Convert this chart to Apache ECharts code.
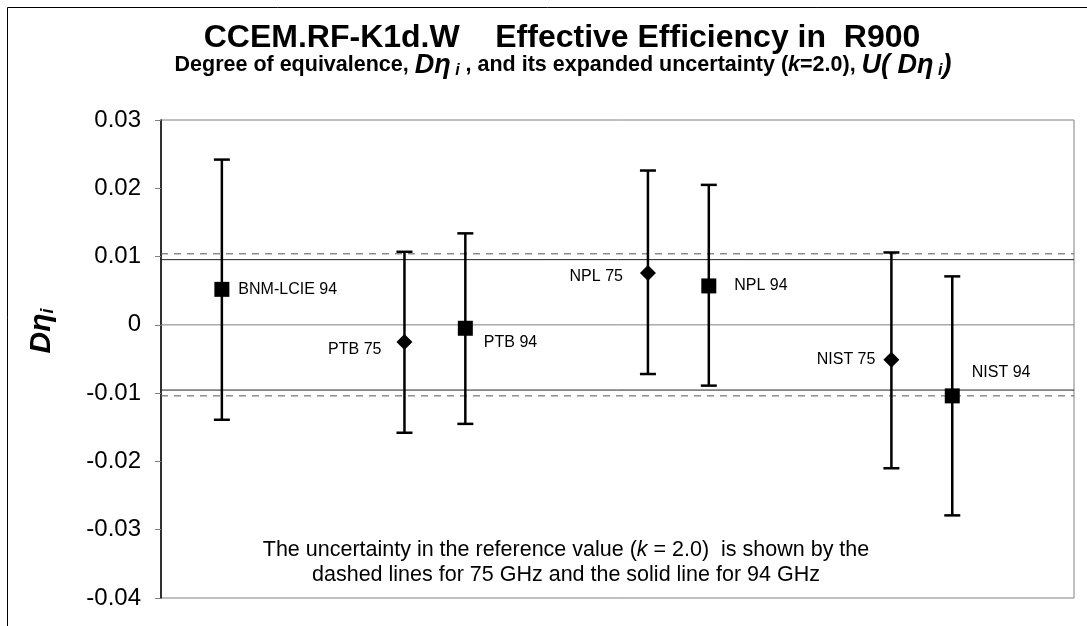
<!DOCTYPE html>
<html>
<head>
<meta charset="utf-8">
<script src="https://cdn.jsdelivr.net/npm/echarts@6/dist/echarts.min.js"></script>
<style>html,body{margin:0;padding:0;background:#fff}#c{width:1087px;height:626px}</style>
</head>
<body>
<div id="c"></div>
<script>
// ---- data ----
var labels  = ['BNM-LCIE 94', 'PTB 75', 'PTB 94', 'NPL 75', 'NPL 94', 'NIST 75', 'NIST 94'];
var xPos    = [1, 4, 5, 8, 9, 12, 13];
var freqs   = [94, 75, 94, 75, 94, 75, 94];
var values  = [0.0052, -0.0025, -0.0005, 0.0076, 0.0057, -0.0051, -0.0104];
var lows    = [-0.0139, -0.0158, -0.0145, -0.0072, -0.0089, -0.0210, -0.0279];
var highs   = [0.0242, 0.0107, 0.0134, 0.0226, 0.0205, 0.0106, 0.0071];
var ref75   = [0.0104, -0.0104];   // dashed lines (75 GHz)
var ref94   = [0.00955, -0.00955]; // solid lines (94 GHz)
var refZero = [0];
var yTicks  = [-0.04, -0.03, -0.02, -0.01, 0, 0.01, 0.02, 0.03];
var xRange  = [0, 15];

// ---- label placement (style only) ----
var labelPlace = {
  'BNM-LCIE 94': {position: 'right', distance: 9,  offset: [0, 0]},
  'PTB 75':      {position: 'left',  distance: 15, offset: [0, 8]},
  'PTB 94':      {position: 'right', distance: 11, offset: [0, 14]},
  'NPL 75':      {position: 'left',  distance: 17, offset: [0, 4]},
  'NPL 94':      {position: 'right', distance: 18, offset: [0, 0]},
  'NIST 75':     {position: 'left',  distance: 8,  offset: [0, 0]},
  'NIST 94':     {position: 'right', distance: 12, offset: [0, -23]}
};

var FONT = 'Arial, "Liberation Sans", sans-serif';

var markerData = labels.map(function (name, i) {
  var is94 = freqs[i] === 94;
  var lp = labelPlace[name];
  return {
    name: name,
    value: [xPos[i], values[i]],
    symbol: is94 ? 'rect' : 'diamond',
    symbolSize: is94 ? 15 : [16, 16],
    label: {
      show: true, formatter: name,
      position: lp.position, distance: lp.distance, offset: lp.offset,
      color: '#000', fontSize: 16, fontFamily: FONT
    }
  };
});

var errData = labels.map(function (name, i) { return [xPos[i], lows[i], highs[i]]; });

function refSeries(vals, type, color) {
  return vals.map(function (v) {
    return {
      type: 'line', silent: true, symbol: 'none', animation: false,
      data: [[xRange[0], v], [xRange[1], v]],
      lineStyle: {type: type, color: color, width: 1},
      z: 1
    };
  });
}

var chart = echarts.init(document.getElementById('c'), null, {renderer: 'canvas'});
chart.setOption({
  backgroundColor: '#fff',
  animation: false,
  title: [{
    text: 'CCEM.RF-K1d.W    Effective Efficiency in  R900',
    left: 557, top: 17, textAlign: 'center',
    textStyle: {fontSize: 32, fontWeight: 'bold', fontFamily: FONT, color: '#000'}
  }, {
    text: '{b|Degree of equivalence, }{i|Dη}{s| i}{b| , and its expanded uncertainty (}{k|k}{b|=2.0), }{i|U( Dη}{s| i}{i|)}',
    left: 558, top: 47, textAlign: 'center',
    textStyle: {
      rich: {
        b: {fontSize: 21.5, fontWeight: 'bold', fontFamily: FONT, color: '#000'},
        k: {fontSize: 21.5, fontWeight: 'bold', fontStyle: 'italic', fontFamily: FONT, color: '#000'},
        i: {fontSize: 27, fontWeight: 'bold', fontStyle: 'italic', fontFamily: FONT, color: '#000'},
        s: {fontSize: 16, fontStyle: 'italic', fontFamily: FONT, color: '#000', verticalAlign: 'bottom', padding: [8, 0, 0, 0]}
      }
    }
  }],
  grid: {left: 161, top: 120, right: 13, bottom: 28, show: true, borderColor: '#808080', borderWidth: 1},
  xAxis: {
    type: 'value', min: xRange[0], max: xRange[1],
    axisLine: {show: false}, axisTick: {show: false}, axisLabel: {show: false}, splitLine: {show: false}
  },
  yAxis: {
    type: 'value', min: yTicks[0], max: yTicks[yTicks.length - 1], interval: 0.01,
    axisLine: {show: true, lineStyle: {color: '#000', width: 1.5}},
    axisTick: {show: true, inside: false, length: 6, lineStyle: {color: '#808080'}},
    axisLabel: {
      margin: 20, fontSize: 24, fontFamily: FONT, color: '#000',
      formatter: function (v) { return String(Math.round(v * 1000) / 1000); }
    },
    splitLine: {show: false}
  },
  graphic: [{
    type: 'rect', silent: true,
    shape: {x: 7.5, y: 7.5, width: 1200, height: 800},
    style: {fill: 'none', stroke: '#000', lineWidth: 1}
  }, {
    type: 'text', silent: true, x: 42, y: 331, rotation: Math.PI / 2,
    style: {
      text: '{d|Dη}{s|i}',
      align: 'center', verticalAlign: 'middle',
      rich: {
        d: {fontSize: 30, fontWeight: 'bold', fontStyle: 'italic', fontFamily: FONT, fill: '#000'},
        s: {fontSize: 18, fontWeight: 'bold', fontStyle: 'italic', fontFamily: FONT, fill: '#000', verticalAlign: 'bottom', padding: [10, 0, 0, 0]}
      }
    }
  }, {
    type: 'text', silent: true, x: 566, y: 563,
    style: {
      text: '{n|The uncertainty in the reference value (}{k|k}{n| = 2.0)  is shown by the}\n{n|dashed lines for 75 GHz and the solid line for 94 GHz}',
      align: 'center', verticalAlign: 'middle',
      rich: {
        n: {fontSize: 21.5, fontFamily: FONT, fill: '#000', lineHeight: 25},
        k: {fontSize: 21.5, fontFamily: FONT, fontStyle: 'italic', fill: '#000', lineHeight: 25}
      }
    }
  }],
  series: refSeries(refZero, 'solid', '#808080')
    .concat(refSeries(ref94, 'solid', '#222'))
    .concat(refSeries(ref75, [7, 6], '#555'))
    .concat([{
      type: 'custom', silent: true,
      data: errData,
      encode: {x: 0, y: [1, 2]},
      renderItem: function (params, api) {
        var x = api.value(0);
        var top = api.coord([x, api.value(2)]);
        var bot = api.coord([x, api.value(1)]);
        var hw = 8;
        var st = {stroke: '#000', lineWidth: 2.5};
        return {
          type: 'group',
          children: [
            {type: 'line', shape: {x1: top[0], y1: top[1], x2: bot[0], y2: bot[1]}, style: st},
            {type: 'line', shape: {x1: top[0] - hw, y1: top[1], x2: top[0] + hw, y2: top[1]}, style: st},
            {type: 'line', shape: {x1: bot[0] - hw, y1: bot[1], x2: bot[0] + hw, y2: bot[1]}, style: st}
          ]
        };
      },
      z: 3
    }, {
      type: 'scatter', silent: true,
      data: markerData,
      itemStyle: {color: '#000', opacity: 1},
      z: 4
    }])
});
</script>
</body>
</html>
